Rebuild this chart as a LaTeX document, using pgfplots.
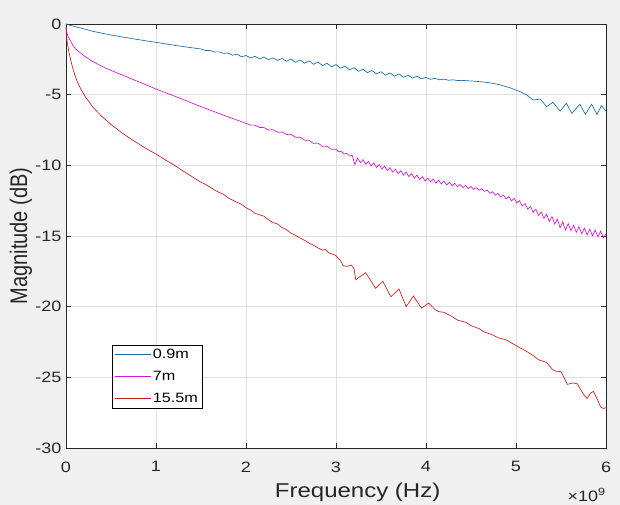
\documentclass[border=0pt]{standalone}
\usepackage{fontspec}
\setmainfont{Liberation Sans}
\usepackage{graphicx}
\usepackage{pgfplots}
\pgfplotsset{compat=1.18}
\definecolor{figbg}{RGB}{240,240,240}
\definecolor{mblue}{RGB}{20,108,165}
\definecolor{mmag}{RGB}{210,20,210}
\definecolor{mred}{RGB}{200,28,28}
\definecolor{gridc}{RGB}{223,223,223}
\definecolor{axc}{RGB}{38,38,38}
\newcommand{\hs}[1]{\scalebox{1.2}[1]{#1}}
\begin{document}
\begin{tikzpicture}
\fill[figbg] (-66pt,-57pt) rectangle (554pt,448pt);
\begin{axis}[
  scale only axis, width=540pt, height=424pt,
  at={(0pt,0pt)}, anchor=south west,
  xmin=0, xmax=6, ymin=-30, ymax=0,
  xtick={0,1,2,3,4,5,6}, xticklabels={\hs{0},\hs{1},\hs{2},\hs{3},\hs{4},\hs{5},\hs{6}},
  ytick={-30,-25,-20,-15,-10,-5,0}, yticklabels={\hs{-30},\hs{-25},\hs{-20},\hs{-15},\hs{-10},\hs{-5},\hs{0}},
  tick align=inside, xtick pos=both, ytick pos=both,
  major tick length=5pt,
  every tick/.style={axc, line width=0.6pt},
  axis line style={axc, line width=0.6pt},
  grid=major, major grid style={gridc, line width=0.6pt},
  axis background/.style={fill=white},
  tick label style={font=\fontsize{15}{15}\selectfont, text=axc},
  xticklabel style={yshift=-10pt},
  yticklabel style={xshift=-1pt},
  xlabel={\hs{Frequency (Hz)}}, ylabel={\scalebox{1}[1.2]{Magnitude (dB)}},
  every axis x label/.style={at={(axis description cs:0.54,-0.1156)}, anchor=base, font=\fontsize{20}{20}\selectfont, text=axc},
  every axis y label/.style={at={(axis description cs:-0.072,0.5)}, rotate=90, anchor=base, font=\fontsize{20}{20}\selectfont, text=axc},
  legend style={at={(0.085,0.094)}, anchor=south west, draw=black, fill=white,
    font=\fontsize{13.5}{13.5}\selectfont, inner sep=2pt, row sep=7pt, line width=0.6pt},
  legend cell align=left,
  legend image code/.code={\draw[#1, line width=0.7pt] (0pt,0pt) -- (36pt,0pt);},
  clip=true,
]
% 0.9 m
\addplot[mblue, line width=0.65pt] coordinates {
(0,0) (0.02,-0.05) (0.05,-0.1) (0.1,-0.18) (0.2,-0.35) (0.3,-0.52) (0.5,-0.78)
(0.75,-1.05) (1.0,-1.3) (1.25,-1.55)
(1.50,-1.77) (1.55,-1.88) (1.60,-1.87) (1.65,-1.98) (1.70,-1.97) (1.75,-2.08)
(1.80,-2.05) (1.85,-2.21) (1.90,-2.13) (1.95,-2.32) (2.00,-2.23) (2.05,-2.40)
(2.10,-2.29) (2.15,-2.46) (2.20,-2.35) (2.25,-2.52) (2.30,-2.40) (2.35,-2.58)
(2.40,-2.44) (2.45,-2.64) (2.50,-2.47) (2.55,-2.71) (2.60,-2.54) (2.65,-2.78)
(2.70,-2.61) (2.75,-2.85) (2.80,-2.69) (2.85,-2.94) (2.90,-2.78) (2.95,-3.03)
(3.00,-2.87) (3.05,-3.13) (3.10,-2.98) (3.15,-3.24) (3.20,-3.09) (3.25,-3.35)
(3.30,-3.20) (3.35,-3.44) (3.40,-3.29) (3.45,-3.53) (3.50,-3.38) (3.55,-3.62)
(3.60,-3.46) (3.65,-3.69) (3.70,-3.53) (3.75,-3.77) (3.80,-3.61) (3.85,-3.83)
(3.90,-3.69) (3.95,-3.88) (4.00,-3.78) (4.05,-3.91) (4.10,-3.84) (4.15,-3.95)
(4.20,-3.90) (4.25,-3.98) (4.30,-3.95) (4.35,-4.00) (4.40,-3.99)
(4.50,-4.03) (4.60,-4.08) (4.70,-4.15) (4.80,-4.27) (4.90,-4.45) (4.95,-4.55)
(5.00,-4.68) (5.05,-4.80) (5.12,-5.02) (5.19,-5.38) (5.27,-5.31) (5.34,-5.85)
(5.41,-5.54) (5.49,-6.16) (5.56,-5.61) (5.62,-6.32) (5.71,-5.68) (5.77,-6.39)
(5.84,-5.68) (5.90,-6.39) (5.95,-5.78) (6.00,-6.16)
};
\addlegendentry{\hs{0.9m}}
% 7 m
\addplot[mmag, line width=0.65pt] coordinates {
(0,-0.2) (0.01,-0.6) (0.02,-0.85) (0.044,-1.13) (0.08,-1.55) (0.12,-1.84)
(0.2,-2.25) (0.3,-2.67) (0.45,-3.15) (0.67,-3.73) (0.85,-4.2) (1.0,-4.6)
(1.27,-5.26) (1.5,-5.85) (1.75,-6.45)
(2.00,-7.03) (2.05,-7.15) (2.10,-7.16) (2.15,-7.32) (2.20,-7.33) (2.25,-7.50)
(2.30,-7.48) (2.35,-7.66) (2.40,-7.64) (2.45,-7.82) (2.50,-7.80) (2.55,-8.01)
(2.60,-8.01) (2.65,-8.22) (2.70,-8.23) (2.75,-8.45) (2.80,-8.43) (2.85,-8.66)
(2.90,-8.65) (2.95,-8.87)
(3.00,-8.86) (3.03,-9.05) (3.06,-9.00) (3.09,-9.20) (3.12,-9.15) (3.15,-9.34)
(3.18,-9.29) (3.21,-9.95) (3.24,-9.48) (3.27,-9.80) (3.30,-9.60) (3.33,-9.92)
(3.36,-9.72) (3.39,-10.04) (3.42,-9.83) (3.45,-10.15) (3.48,-9.95) (3.51,-10.27)
(3.54,-10.06) (3.57,-10.37) (3.60,-10.17) (3.63,-10.48) (3.66,-10.27) (3.69,-10.59)
(3.72,-10.38) (3.75,-10.69) (3.78,-10.48) (3.81,-10.80) (3.84,-10.59) (3.87,-10.90)
(3.90,-10.69) (3.93,-11.01) (3.96,-10.80) (3.99,-11.11) (4.02,-10.90) (4.05,-11.18)
(4.08,-10.97) (4.11,-11.25) (4.14,-11.05) (4.17,-11.31) (4.20,-11.12) (4.23,-11.38)
(4.26,-11.20) (4.29,-11.44) (4.32,-11.27) (4.35,-11.51) (4.38,-11.35) (4.41,-11.57)
(4.44,-11.42) (4.47,-11.64) (4.50,-11.50) (4.53,-11.70) (4.56,-11.58) (4.59,-11.76)
(4.62,-11.65) (4.65,-11.84) (4.68,-11.75) (4.71,-11.98) (4.74,-11.87) (4.77,-12.11)
(4.80,-11.98) (4.83,-12.25) (4.86,-12.10) (4.89,-12.38) (4.92,-12.21) (4.95,-12.52)
(4.98,-12.33) (5.01,-12.67) (5.04,-12.50) (5.07,-12.89) (5.10,-12.70) (5.13,-13.11)
(5.16,-12.90) (5.19,-13.33) (5.22,-13.10) (5.25,-13.55) (5.28,-13.30) (5.31,-13.76)
(5.34,-13.46) (5.37,-13.97) (5.40,-13.63) (5.43,-14.16) (5.46,-13.81) (5.49,-14.42)
(5.52,-14.00) (5.55,-14.59) (5.58,-14.12) (5.61,-14.62) (5.64,-14.23) (5.67,-14.73)
(5.70,-14.34) (5.73,-14.84) (5.76,-14.44) (5.79,-14.92) (5.82,-14.51) (5.85,-14.99)
(5.88,-14.58) (5.91,-15.06) (5.94,-14.66) (5.97,-15.13) (6.00,-14.85)
};
\addlegendentry{\hs{7m}}
% 15.5 m
\addplot[mred, line width=0.65pt] coordinates {
(0,-0.1) (0.005,-0.8) (0.015,-1.35) (0.03,-1.9) (0.05,-2.5) (0.08,-3.25)
(0.12,-4.0) (0.16,-4.55) (0.21,-5.1) (0.3,-5.9) (0.4,-6.55) (0.5,-7.1)
(0.6,-7.6) (0.7,-8.05) (0.8,-8.45) (0.9,-8.85) (1.0,-9.2) (1.1,-9.6)
(1.2,-9.98) (1.3,-10.4) (1.4,-10.8) (1.5,-11.2) (1.55,-11.35) (1.6,-11.55)
(1.7,-11.92) (1.75,-12.05) (1.8,-12.3) (1.9,-12.62) (1.95,-12.75) (2.0,-13.0)
(2.05,-13.15) (2.1,-13.4) (2.15,-13.5) (2.2,-13.6) (2.25,-13.85) (2.3,-14.05)
(2.35,-14.15) (2.4,-14.4) (2.45,-14.55) (2.5,-14.8) (2.55,-14.95) (2.6,-15.15)
(2.65,-15.3) (2.7,-15.5) (2.75,-15.65) (2.8,-15.85) (2.85,-16.0) (2.88,-15.95)
(2.92,-16.2) (2.97,-16.3) (3.0,-16.4) (3.05,-16.75) (3.08,-17.1) (3.12,-17.15)
(3.17,-17.05) (3.2,-17.3) (3.22,-18.1) (3.26,-17.9) (3.33,-17.6) (3.44,-18.7)
(3.52,-18.2) (3.61,-19.3) (3.70,-18.75) (3.78,-20.0) (3.86,-19.25) (3.95,-20.1)
(4.03,-19.75) (4.1,-20.2) (4.14,-20.35) (4.2,-20.4) (4.29,-20.7) (4.35,-20.95)
(4.44,-21.1) (4.5,-21.35) (4.59,-21.55) (4.65,-21.8) (4.74,-22.0) (4.8,-22.2)
(4.89,-22.35) (5.0,-22.75) (5.1,-23.1) (5.19,-23.45) (5.25,-23.75) (5.34,-23.95)
(5.4,-24.4) (5.43,-24.55) (5.5,-24.6) (5.54,-25.1) (5.57,-25.5) (5.63,-25.4)
(5.68,-25.45) (5.75,-26.2) (5.79,-26.5) (5.83,-26.1) (5.86,-26.0) (5.9,-26.5)
(5.94,-27.1) (5.97,-27.2) (6.0,-27.15)
};
\addlegendentry{\hs{15.5m}}
\end{axis}
\node[anchor=base east, font=\fontsize{15}{15}\selectfont, text=axc, inner sep=0pt] at (540pt,-53pt) {\hs{×10\textsuperscript{9}}};
\end{tikzpicture}
\end{document}
